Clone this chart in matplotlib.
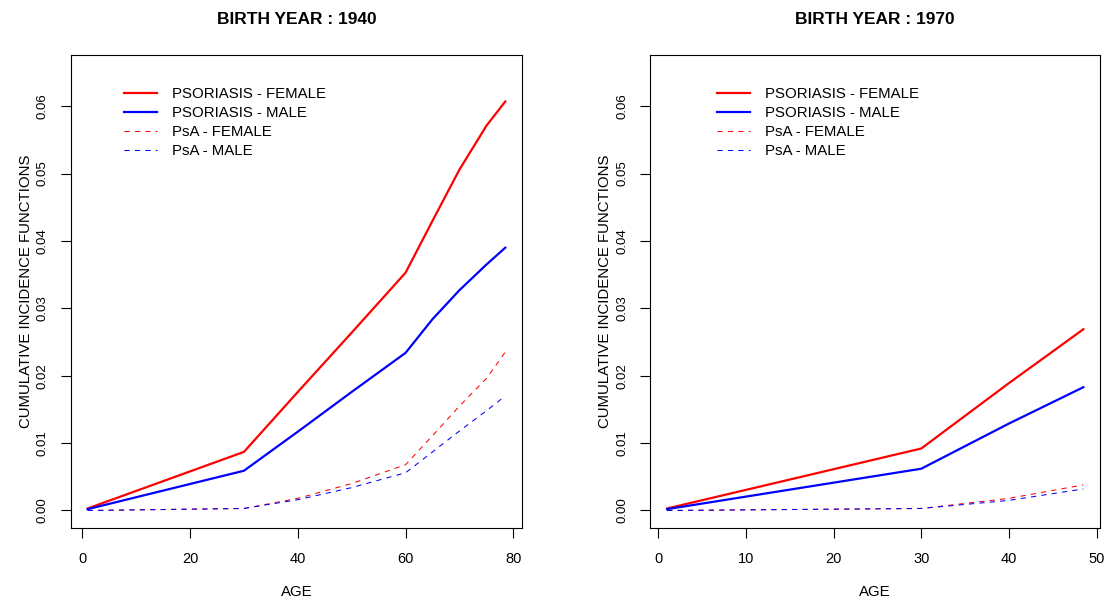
import matplotlib
matplotlib.use('Agg')
import matplotlib.pyplot as plt

plt.rcParams['font.family'] = ['Liberation Sans', 'DejaVu Sans']

# cumulative incidence by age, birth year 1940
age_1940 = [1, 30, 40, 50, 60, 65, 70, 75, 78.5]
pso_f_1940 = [0.0003, 0.0087, 0.0176, 0.0264, 0.0353, 0.0430, 0.0506, 0.0571, 0.0607]
pso_m_1940 = [0.0002, 0.0059, 0.0117, 0.0176, 0.0234, 0.0284, 0.0327, 0.0365, 0.0390]
psa_f_1940 = [0.0000, 0.0003, 0.0018, 0.0040, 0.0068, 0.0111, 0.0155, 0.0196, 0.0235]
psa_m_1940 = [0.0000, 0.0003, 0.0016, 0.0034, 0.0056, 0.0087, 0.0118, 0.0148, 0.0170]

# birth year 1970
age_1970 = [1, 30, 40, 48.5]
pso_f_1970 = [0.0003, 0.0092, 0.0189, 0.0269]
pso_m_1970 = [0.0002, 0.0062, 0.0129, 0.0183]
psa_f_1970 = [0.0000, 0.0003, 0.0018, 0.0038]
psa_m_1970 = [0.0000, 0.0003, 0.0015, 0.0032]

labels = ['PSORIASIS - FEMALE', 'PSORIASIS - MALE', 'PsA - FEMALE', 'PsA - MALE']
yticks = [0.00, 0.01, 0.02, 0.03, 0.04, 0.05, 0.06]


def draw_panel(ax, title, age, series, xticks, leg_x):
    styles = [('#ff0000', 1.6, '-'), ('#0000ff', 1.6, '-'),
              ('#ff0000', 0.75, (0, (5, 5))), ('#0000ff', 0.75, (0, (5, 5)))]
    for vals, (col, lw, ls), lab in zip(series, styles, labels):
        ax.plot(age, vals, color=col, lw=lw, ls=ls, label=lab)
    # R style: 4% padding around data range
    span = age[-1] - age[0]
    ax.set_xlim(age[0] - 0.04 * span, age[-1] + 0.04 * span)
    ax.set_ylim(-0.0026, 0.0676)
    ax.set_xticks(xticks)
    ax.set_yticks(yticks)
    ax.set_yticklabels([f'{v:.2f}' for v in yticks], rotation=90, va='center')
    ax.tick_params(axis='both', direction='out', length=7, width=0.8,
                   top=False, right=False)
    ax.tick_params(axis='x', pad=10, labelsize=10.5)
    ax.tick_params(axis='y', pad=9, labelsize=9.5)
    for sp in ax.spines.values():
        sp.set_linewidth(0.8)
        sp.set_color('black')
    ax.set_title(title, fontsize=12.5, fontweight='bold', pad=22.5)
    ax.set_xlabel('AGE', fontsize=10.8, labelpad=14)
    ax.set_ylabel('CUMULATIVE INCIDENCE FUNCTIONS', fontsize=10.8, labelpad=3)
    ax.legend(loc='upper left', bbox_to_anchor=(leg_x, 0.9315), frameon=False,
              fontsize=10.8, handlelength=2.2, handletextpad=1.0,
              labelspacing=0.33, borderpad=0, borderaxespad=0)


fig = plt.figure(figsize=(11.04, 6.02), dpi=100)
ax1 = fig.add_axes([0.0643, 0.1229, 0.4085, 0.7857])
ax2 = fig.add_axes([0.5892, 0.1229, 0.4072, 0.7857])

draw_panel(ax1, 'BIRTH YEAR : 1940', age_1940,
           [pso_f_1940, pso_m_1940, psa_f_1940, psa_m_1940],
           [0, 20, 40, 60, 80], 0.1175)
draw_panel(ax2, 'BIRTH YEAR : 1970', age_1970,
           [pso_f_1970, pso_m_1970, psa_f_1970, psa_m_1970],
           [0, 10, 20, 30, 40, 50], 0.148)

fig.savefig('out.png', dpi=100)
